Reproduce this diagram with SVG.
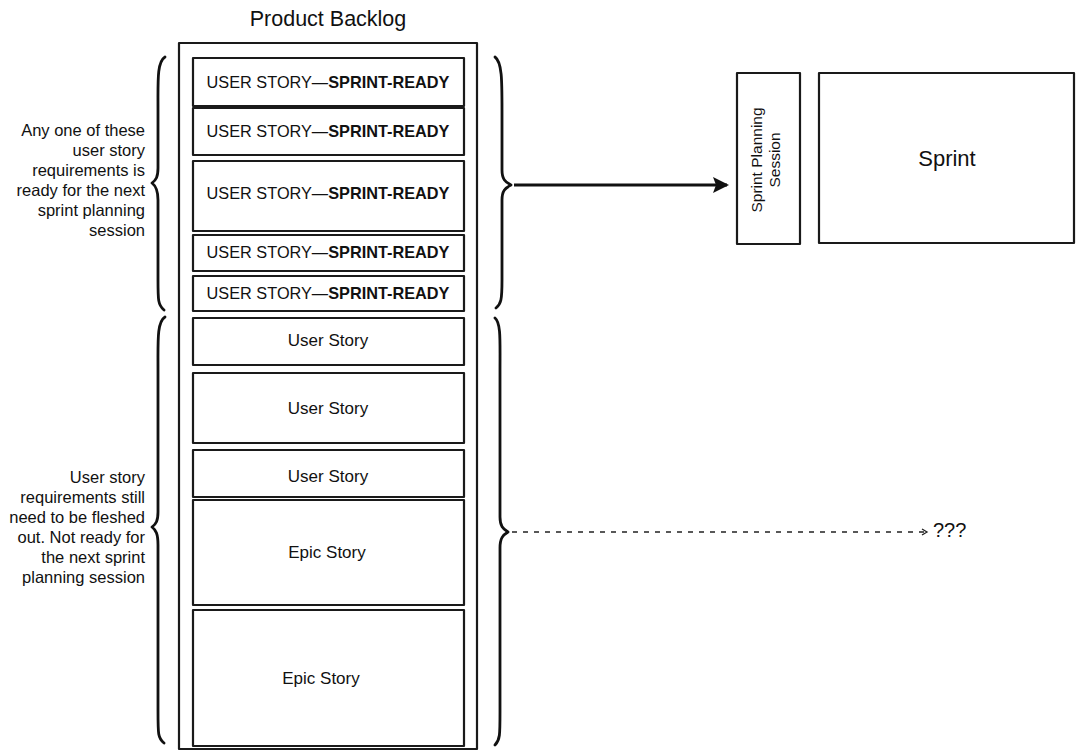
<svg xmlns="http://www.w3.org/2000/svg" width="1077" height="752" viewBox="0 0 1077 752">
  <style>
    .box { fill: #fff; stroke: #1a1a1a; stroke-width: 2.2; stroke-linejoin: round; }
    .brace { fill: none; stroke: #111; stroke-width: 2.8; stroke-linecap: round; stroke-linejoin: round; }
    .t { font-family: "Liberation Sans", Arial, sans-serif; fill: #111; }
    .ready { font-size: 16.3px; text-anchor: middle; }
    .ready .b { font-weight: bold; }
    .story { font-size: 17px; text-anchor: middle; }
    .note { font-size: 16.5px; text-anchor: end; }
  </style>
  <defs>
    <marker id="solidHead" viewBox="0 0 16 16" refX="14" refY="8" markerWidth="16" markerHeight="16" markerUnits="userSpaceOnUse" orient="auto">
      <path d="M0,0 L16,8 L0,16 L3,8 Z" fill="#111"/>
    </marker>
  </defs>

  <rect width="1077" height="752" fill="#fff"/>

  <!-- backlog column -->
  <g id="backlog">
    <text class="t" x="328" y="26" font-size="21.5" text-anchor="middle">Product Backlog</text>
    <rect class="box" x="179" y="43" width="298" height="706"/>
  </g>

  <g id="ready-1">
    <rect class="box" x="193" y="58" width="271" height="48"/>
    <text class="t ready" x="328" y="88">USER STORY—<tspan class="b">SPRINT-READY</tspan></text>
  </g>
  <g id="ready-2">
    <rect class="box" x="193" y="108" width="271" height="47"/>
    <text class="t ready" x="328" y="137">USER STORY—<tspan class="b">SPRINT-READY</tspan></text>
  </g>
  <g id="ready-3">
    <rect class="box" x="193" y="161" width="271" height="70"/>
    <text class="t ready" x="328" y="199">USER STORY—<tspan class="b">SPRINT-READY</tspan></text>
  </g>
  <g id="ready-4">
    <rect class="box" x="193" y="235" width="271" height="36"/>
    <text class="t ready" x="328" y="258">USER STORY—<tspan class="b">SPRINT-READY</tspan></text>
  </g>
  <g id="ready-5">
    <rect class="box" x="193" y="276" width="271" height="35"/>
    <text class="t ready" x="328" y="299">USER STORY—<tspan class="b">SPRINT-READY</tspan></text>
  </g>

  <g id="story-1">
    <rect class="box" x="193" y="318" width="271" height="47"/>
    <text class="t story" x="328" y="346">User Story</text>
  </g>
  <g id="story-2">
    <rect class="box" x="193" y="373" width="271" height="70"/>
    <text class="t story" x="328" y="414">User Story</text>
  </g>
  <g id="story-3">
    <rect class="box" x="193" y="450" width="271" height="47"/>
    <text class="t story" x="328" y="482">User Story</text>
  </g>
  <g id="epic-1">
    <rect class="box" x="193" y="500" width="271" height="105"/>
    <text class="t story" x="327" y="558">Epic Story</text>
  </g>
  <g id="epic-2">
    <rect class="box" x="193" y="610" width="271" height="136"/>
    <text class="t story" x="321" y="684">Epic Story</text>
  </g>

  <!-- notes on the left -->
  <g id="note-ready">
    <path class="brace" d="M165,57 C157,62 158,80 158,110 L158,168 C158,177 156,180 152,183 C156,186 158,190 158,200 L158,280 C158,300 158,305 164,310"/>
    <text class="t note" x="145" y="136">Any one of these</text>
    <text class="t note" x="145" y="156">user story</text>
    <text class="t note" x="145" y="176">requirements is</text>
    <text class="t note" x="145" y="196">ready for the next</text>
    <text class="t note" x="145" y="216">sprint planning</text>
    <text class="t note" x="145" y="236">session</text>
  </g>
  <g id="note-not-ready">
    <path class="brace" d="M165,317 C157,322 158,340 158,370 L158,512 C158,521 156,524 152,527 C156,530 158,534 158,545 L158,710 C158,735 158,738 164,743"/>
    <text class="t note" x="145" y="483">User story</text>
    <text class="t note" x="145" y="503">requirements still</text>
    <text class="t note" x="145" y="523">need to be fleshed</text>
    <text class="t note" x="145" y="543">out. Not ready for</text>
    <text class="t note" x="145" y="563">the next sprint</text>
    <text class="t note" x="145" y="583">planning session</text>
  </g>

  <!-- braces on the right -->
  <g id="brace-ready">
    <path class="brace" d="M495,57 C502,62 502,80 502,110 L502,170 C502,179 505,182 511,185 C505,188 502,191 502,200 L502,280 C502,300 501,304 496,308"/>
  </g>
  <g id="brace-not-ready">
    <path class="brace" d="M495,318 C501,323 500,340 500,370 L500,517 C500,526 503,529 508,532 C503,535 500,538 500,548 L500,712 C500,735 500,740 495,745"/>
  </g>

  <!-- sprint side -->
  <g id="planning">
    <rect class="box" x="737" y="73" width="63" height="171"/>
    <g transform="translate(768,160) rotate(-90)">
      <text class="t" font-size="15.5" text-anchor="middle" x="0" y="-6">Sprint Planning</text>
      <text class="t" font-size="15.5" text-anchor="middle" x="0" y="12">Session</text>
    </g>
  </g>
  <g id="sprint">
    <rect class="box" x="819" y="73" width="255" height="170"/>
    <text class="t" x="947" y="166" font-size="22" text-anchor="middle">Sprint</text>
  </g>

  <g id="unknown">
    <text class="t" x="933" y="537" font-size="20">???</text>
  </g>

  <!-- connectors -->
  <g id="connectors">
    <line x1="514" y1="185" x2="727" y2="185" stroke="#111" stroke-width="3.2" marker-end="url(#solidHead)"/>
    <line x1="512" y1="532" x2="924" y2="532" stroke="#222" stroke-width="1.5" stroke-dasharray="5 6"/>
    <path d="M922,529 L927,532 L922,535" fill="none" stroke="#222" stroke-width="1.3"/>
  </g>
</svg>
